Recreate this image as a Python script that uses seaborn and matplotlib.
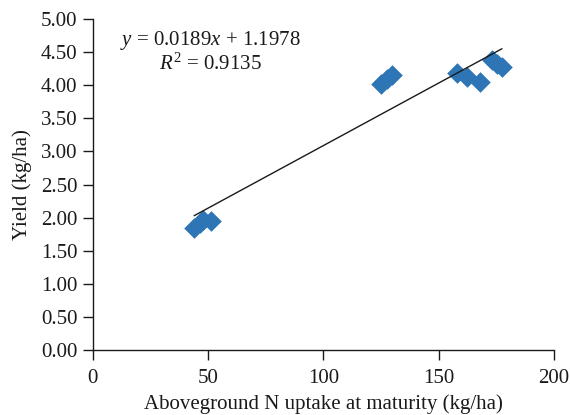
import numpy as np
import pandas as pd
import matplotlib
matplotlib.use("Agg")
import matplotlib.pyplot as plt
import seaborn as sns

# N uptake at maturity (kg/ha) and yield for each plot
n_uptake = [44.0, 46.5, 48.0, 51.5, 125.0, 127.5, 130.0,
            158.0, 162.5, 168.0, 173.0, 175.5, 177.5]
yield_vals = [1.84, 1.92, 1.97, 1.95, 4.02, 4.09, 4.15,
              4.19, 4.13, 4.05, 4.38, 4.32, 4.27]

# linear trend: y = slope * x + intercept
slope = 0.0189
intercept = 1.1978
r_squared = 0.9135

x_ticks = [0, 50, 100, 150, 200]
y_ticks = [0.0, 0.5, 1.0, 1.5, 2.0, 2.5, 3.0, 3.5, 4.0, 4.5, 5.0]

sns.set_theme(style="white")
plt.rcParams["font.family"] = ["Liberation Serif", "DejaVu Serif"]
plt.rcParams["mathtext.fontset"] = "custom"
plt.rcParams["mathtext.rm"] = "Liberation Serif"
plt.rcParams["mathtext.it"] = "Liberation Serif:italic"

FS = 15

df = pd.DataFrame({"n": n_uptake, "yield": yield_vals})

fig = plt.figure(figsize=(5.71, 4.15), dpi=100)
ax = fig.add_axes([0.1623, 0.1566, 0.8077, 0.7974])

sns.scatterplot(data=df, x="n", y="yield", marker="D", s=110,
                color="#2E75B6", linewidth=0, ax=ax, zorder=2)

x_line = np.array([min(n_uptake), max(n_uptake)])
trend = pd.DataFrame({"n": x_line, "yield": slope * x_line + intercept})
sns.lineplot(data=trend, x="n", y="yield", color="#1a1a1a", linewidth=1.0,
             ax=ax, zorder=3)

ax.set_xlim(0, 200)
ax.set_ylim(0, 5)
ax.set_xticks(x_ticks)
ax.set_yticks(y_ticks)
ax.set_xticklabels([str(t) for t in x_ticks])
ax.set_yticklabels([f"{t:.2f}" for t in y_ticks])

for side in ["top", "right"]:
    ax.spines[side].set_visible(False)
for side in ["left", "bottom"]:
    ax.spines[side].set_color("#1a1a1a")
    ax.spines[side].set_linewidth(1.0)

ax.tick_params(axis="both", direction="out", length=7, width=1.0,
               color="#1a1a1a", labelsize=FS, labelcolor="#1a1a1a",
               left=True, bottom=True)
ax.tick_params(axis="x", pad=7)
ax.tick_params(axis="y", pad=4)

ax.set_xlabel("Aboveground N uptake at maturity (kg/ha)", fontsize=FS,
              color="#1a1a1a", labelpad=4)
ax.set_ylabel("Yield (kg/ha)", fontsize=FS, color="#1a1a1a", labelpad=6)

ax.text(51, 4.68, r"$y$ = 0.0189$x$ + 1.1978", fontsize=FS,
        color="#1a1a1a", ha="center", va="center")
ax.text(51, 4.32, r"$R^2$ = " + f"{r_squared:.4f}", fontsize=FS,
        color="#1a1a1a", ha="center", va="center")

fig.savefig("out.png", dpi=100)
